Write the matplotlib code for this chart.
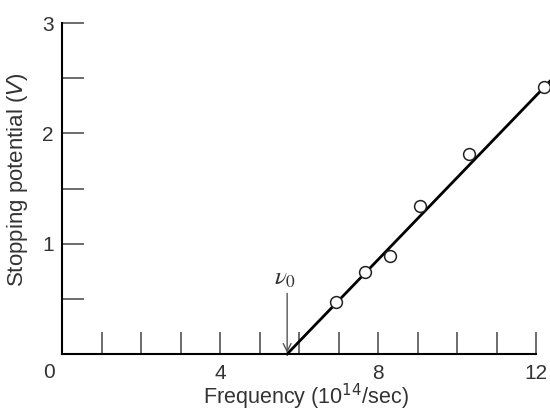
import matplotlib.pyplot as plt
import numpy as np

# measured points (frequency in 1e14 Hz, stopping potential in V)
freq = [6.94, 7.67, 8.30, 9.06, 10.30, 12.20]
volts = [0.47, 0.74, 0.89, 1.34, 1.81, 2.42]

# straight-line fit
nu0 = 5.7
fit_x = [5.7, 12.4]
fit_y = [0.0, 2.49]

x_ticks = list(range(1, 13))
x_labels = ['', '', '', '4', '', '', '', '8', '', '', '', '12']
y_ticks = [0.5, 1.0, 1.5, 2.0, 2.5, 3.0]
y_labels = ['', '1', '', '2', '', '3']

plt.rcParams['font.family'] = ['Liberation Sans', 'DejaVu Sans']
txt = '#333333'

fig = plt.figure(figsize=(5.5, 4.12), dpi=100)
ax = fig.add_axes([62 / 550, 58 / 412, 488 / 550, 349 / 412])
ax.set_xlim(0, 488 / 39.5)
ax.set_ylim(0, 349 / 110.3)

ax.plot(fit_x, fit_y, color='black', lw=2.0, zorder=2, clip_on=False)
ax.plot(freq, volts, 'o', ms=8.5, mfc='white', mec='#222222', mew=1.1, zorder=3)

for s in ['top', 'right']:
    ax.spines[s].set_visible(False)
ax.spines['left'].set_bounds(0, 3)
ax.spines['bottom'].set_bounds(0, 12)
for s in ['left', 'bottom']:
    ax.spines[s].set_linewidth(1.5)

ax.set_xticks(x_ticks)
ax.set_xticklabels(x_labels)
ax.set_yticks(y_ticks)
ax.set_yticklabels(y_labels)
ax.tick_params(direction='in', length=16, width=1.1, color='#444444',
               labelsize=15, labelcolor=txt)
ax.tick_params(axis='x', pad=7)
ax.tick_params(axis='y', pad=6)

ax.annotate('0', xy=(0, 0), xytext=(-13, -18), textcoords='offset pixels',
            ha='center', va='center', fontsize=15, color=txt)

ax.annotate('', xy=(nu0, 0.01), xytext=(nu0, 0.55),
            arrowprops=dict(arrowstyle='->', color='#555555', lw=1.0,
                            mutation_scale=14, shrinkA=0, shrinkB=0))
ax.text(nu0 - 0.05, 0.58, r'$\nu_0$', ha='center', va='bottom',
        fontsize=18, color=txt, math_fontfamily='stix')

ax.set_xlabel('Frequency (10$^{14}$/sec)', fontsize=15.5, color=txt, labelpad=-1)
ax.set_ylabel('Stopping potential ($V$)', fontsize=16, color=txt, labelpad=9)

fig.savefig('out.png', dpi=100)
